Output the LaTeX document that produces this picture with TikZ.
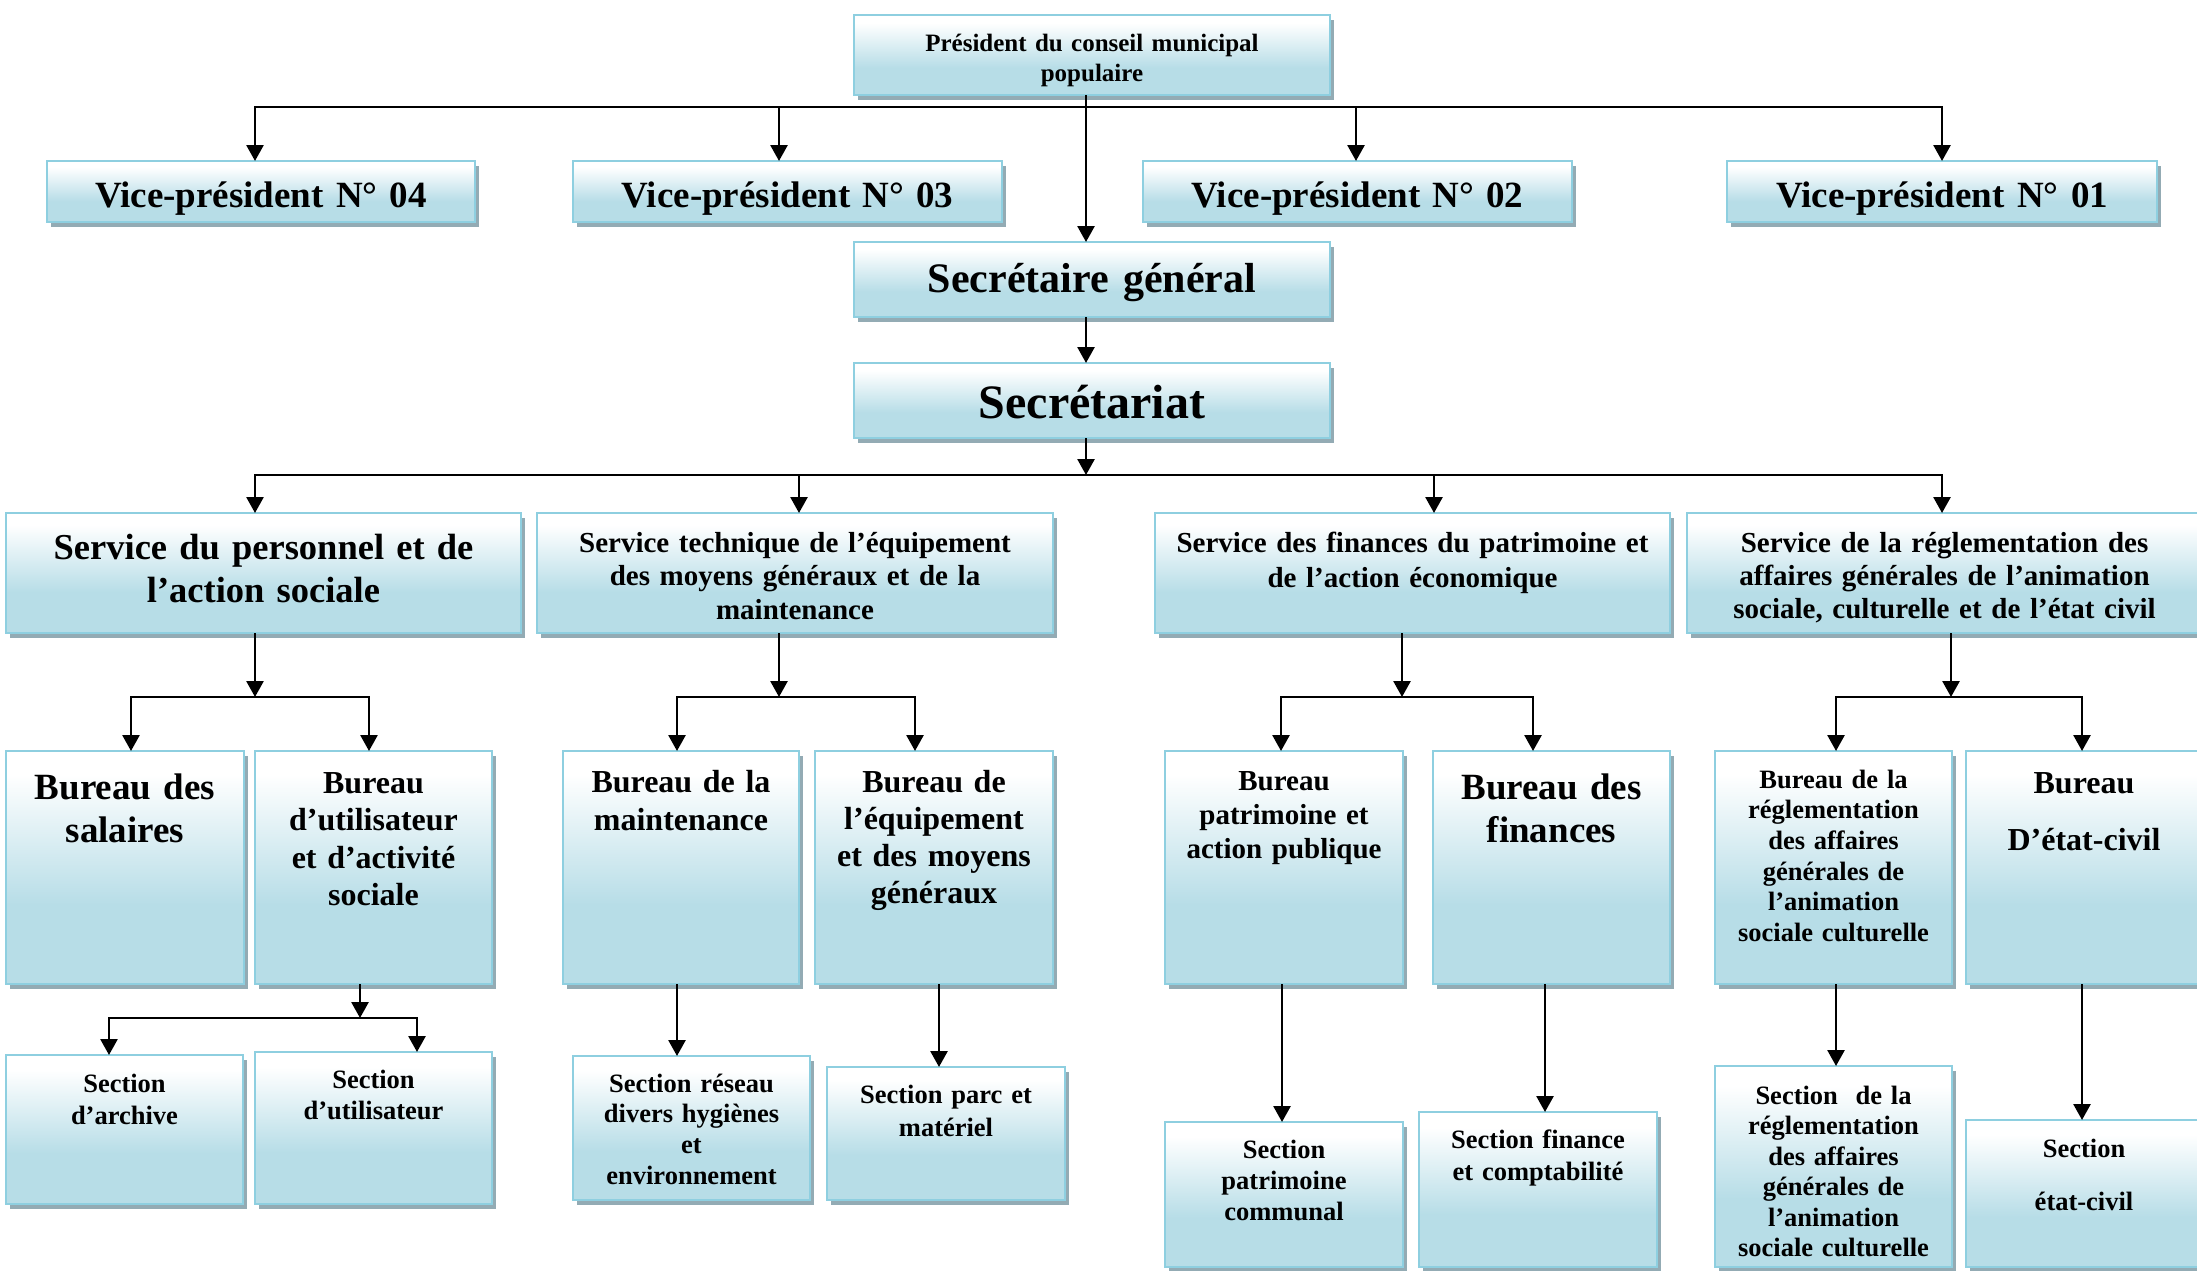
\documentclass[tikz,border=0pt]{standalone}
\usepackage{fontspec}
\setmainfont{Liberation Serif}
\usetikzlibrary{arrows.meta}
\definecolor{fillb}{HTML}{B7DDE7}
\definecolor{bord}{HTML}{8ECFE0}
\definecolor{shd}{HTML}{93ABB4}
\pgfdeclareverticalshading{boxshade}{100bp}{color(0bp)=(fillb); color(42bp)=(fillb); color(70bp)=(white); color(100bp)=(white)}
\newcommand\orgbox[9]{%
  \pgfmathsetmacro\obW{#4-#2}%
  \pgfmathsetmacro\obH{#5-#3}%
  \pgfmathsetmacro\obX{(#2+#4)/2}%
  \pgfmathsetmacro\obY{(#3+#5)/2}%
  \pgfmathsetmacro\obT{#4-#2-6}%
  \fill[shd] (#2+4,#3+5) rectangle (#4+4,#5+5);
  \node[boxst, minimum width=\obW pt, minimum height=\obH pt] (#1) at (\obX,\obY) {};
  \node[txtst, text width=\obT pt, font={\fontsize{#6}{#7}\selectfont\bfseries}, anchor=base] (#1t) at ([yshift=-#8pt]#1.north) {#9};
}
\begin{document}
\begin{tikzpicture}[x=1pt,y=-1pt,
  boxst/.style={draw=bord, line width=2pt, shading=boxshade, inner sep=0pt, outer sep=0pt},
  txtst/.style={inner sep=0pt, align=center, text=black},
  ln/.style={line width=2.7pt, line cap=rect},
  arr/.style={line width=2.7pt, -{Triangle[width=17pt,length=16pt]}}]
\useasboundingbox[fill=white] (0,0) rectangle (2197,1270);

% ---- boxes
\orgbox{P}{854}{15}{1330}{95}{25}{30}{36}{Président du conseil municipal\\populaire}
\orgbox{VP04}{47}{161}{475}{222}{37}{43}{46}{Vice-président N° 04}
\orgbox{VP03}{573}{161}{1002}{222}{37}{43}{46}{Vice-président N° 03}
\orgbox{VP02}{1143}{161}{1572}{222}{37}{43}{46}{Vice-président N° 02}
\orgbox{VP01}{1727}{161}{2157}{222}{37}{43}{46}{Vice-président N° 01}
\orgbox{SG}{854}{242}{1330}{317}{42}{48}{50}{Secrétaire général}
\orgbox{SEC}{854}{363}{1330}{438}{48}{54}{55}{Secrétariat}

\orgbox{S1}{6}{513}{521}{633}{36.5}{43}{46}{Service du personnel et de\\l’action sociale}
\orgbox{S2}{537}{513}{1053}{633}{29}{33.5}{39}{Service technique de l’équipement\\des moyens généraux et de la\\maintenance}
\orgbox{S3}{1155}{513}{1670}{633}{29}{35}{39}{Service des finances du patrimoine et\\de l’action économique}
\orgbox{S4}{1687}{513}{2202}{633}{29}{33}{39}{Service de la réglementation des\\affaires générales de l’animation\\sociale, culturelle et de l’état civil}

\orgbox{B1}{6}{751}{244}{984}{37}{43}{48}{Bureau des\\salaires}
\orgbox{B2}{255}{751}{492}{984}{32}{37.5}{42}{Bureau\\d’utilisateur\\et d’activité\\sociale}
\orgbox{B3}{563}{751}{799}{984}{32}{38}{41}{Bureau de la\\maintenance}
\orgbox{B4}{815}{751}{1053}{984}{32}{37}{41}{Bureau de\\l’équipement\\et des moyens\\généraux}
\orgbox{B5}{1165}{751}{1403}{984}{29}{34}{39}{Bureau\\patrimoine et\\action publique}
\orgbox{B6}{1433}{751}{1670}{984}{37}{43}{48}{Bureau des\\finances}
\orgbox{B7}{1715}{751}{1952}{984}{26.5}{30.7}{37}{Bureau de la\\réglementation\\des affaires\\générales de\\l’animation\\sociale culturelle}
\orgbox{B8}{1966}{751}{2202}{984}{32}{37.5}{42}{Bureau\\[19.5pt]D’état-civil}

\orgbox{SA}{6}{1055}{243}{1204}{26.5}{32}{37}{Section\\d’archive}
\orgbox{SU}{255}{1052}{492}{1204}{26.5}{31}{36}{Section\\d’utilisateur}
\orgbox{SR}{573}{1056}{810}{1200}{26.5}{30.7}{36}{Section réseau\\divers hygiènes\\et\\environnement}
\orgbox{SP}{827}{1067}{1065}{1200}{26.5}{33}{36}{Section parc et\\matériel}
\orgbox{SPC}{1165}{1122}{1403}{1267}{26.5}{31}{36}{Section\\patrimoine\\communal}
\orgbox{SF}{1419}{1112}{1657}{1267}{26.5}{32}{36}{Section finance\\et comptabilité}
\orgbox{SRG}{1715}{1066}{1952}{1267}{26.5}{30.5}{38}{Section\ \ de la\\réglementation\\des affaires\\générales de\\l’animation\\sociale culturelle}
\orgbox{SE}{1966}{1120}{2202}{1267}{26.5}{30.5}{37}{Section\\[22.5pt]état-civil}

% ---- top connectors
\coordinate (tL) at (255,107);
\coordinate (tR) at (1942,107);
\coordinate (t3) at (779,107);
\coordinate (t2) at (1356,107);
\coordinate (pc) at (1086,0);
\draw[ln] (tL) -- (tR);
\draw[arr] (tL) -- (tL |- VP04.north);
\draw[arr] (t3) -- (t3 |- VP03.north);
\draw[arr] (t2) -- (t2 |- VP02.north);
\draw[arr] (tR) -- (tR |- VP01.north);
\draw[arr] (pc |- P.south) -- (pc |- SG.north);
\draw[arr] (pc |- SG.south) -- (pc |- SEC.north);

% ---- secretariat to services
\coordinate (sM) at (1086,475);
\coordinate (sL) at (255,475);
\coordinate (s2) at (799,475);
\coordinate (s3) at (1434,475);
\coordinate (sR) at (1942,475);
\draw[arr] (pc |- SEC.south) -- (sM);
\draw[ln] (sL) -- (sR);
\draw[arr] (sL) -- (sL |- S1.north);
\draw[arr] (s2) -- (s2 |- S2.north);
\draw[arr] (s3) -- (s3 |- S3.north);
\draw[arr] (sR) -- (sR |- S4.north);

% ---- services to bureaux
\coordinate (a1) at (255,697);  \coordinate (a1L) at (131,697);  \coordinate (a1R) at (369,697);
\coordinate (a2) at (779,697);  \coordinate (a2L) at (677,697);  \coordinate (a2R) at (915,697);
\coordinate (a3) at (1402,697); \coordinate (a3L) at (1281,697); \coordinate (a3R) at (1533,697);
\coordinate (a4) at (1951,697); \coordinate (a4L) at (1836,697); \coordinate (a4R) at (2082,697);
\draw[arr] (a1 |- S1.south) -- (a1);
\draw[arr] (a2 |- S2.south) -- (a2);
\draw[arr] (a3 |- S3.south) -- (a3);
\draw[arr] (a4 |- S4.south) -- (a4);
\draw[ln] (a1L) -- (a1R);
\draw[ln] (a2L) -- (a2R);
\draw[ln] (a3L) -- (a3R);
\draw[ln] (a4L) -- (a4R);
\draw[arr] (a1L) -- (a1L |- B1.north);
\draw[arr] (a1R) -- (a1R |- B2.north);
\draw[arr] (a2L) -- (a2L |- B3.north);
\draw[arr] (a2R) -- (a2R |- B4.north);
\draw[arr] (a3L) -- (a3L |- B5.north);
\draw[arr] (a3R) -- (a3R |- B6.north);
\draw[arr] (a4L) -- (a4L |- B7.north);
\draw[arr] (a4R) -- (a4R |- B8.north);

% ---- bureaux to sections
\coordinate (c2) at (360,1018); \coordinate (c2L) at (109,1018); \coordinate (c2R) at (417,1018);
\draw[arr] (c2 |- B2.south) -- (c2);
\draw[ln] (c2L) -- (c2R);
\draw[arr] (c2L) -- (c2L |- SA.north);
\draw[arr] (c2R) -- (c2R |- SU.north);
\coordinate (c3) at (677,0);
\coordinate (c4) at (939,0);
\coordinate (c5) at (1282,0);
\coordinate (c6) at (1545,0);
\coordinate (c7) at (1836,0);
\coordinate (c8) at (2082,0);
\draw[arr] (c3 |- B3.south) -- (c3 |- SR.north);
\draw[arr] (c4 |- B4.south) -- (c4 |- SP.north);
\draw[arr] (c5 |- B5.south) -- (c5 |- SPC.north);
\draw[arr] (c6 |- B6.south) -- (c6 |- SF.north);
\draw[arr] (c7 |- B7.south) -- (c7 |- SRG.north);
\draw[arr] (c8 |- B8.south) -- (c8 |- SE.north);
\end{tikzpicture}
\end{document}
